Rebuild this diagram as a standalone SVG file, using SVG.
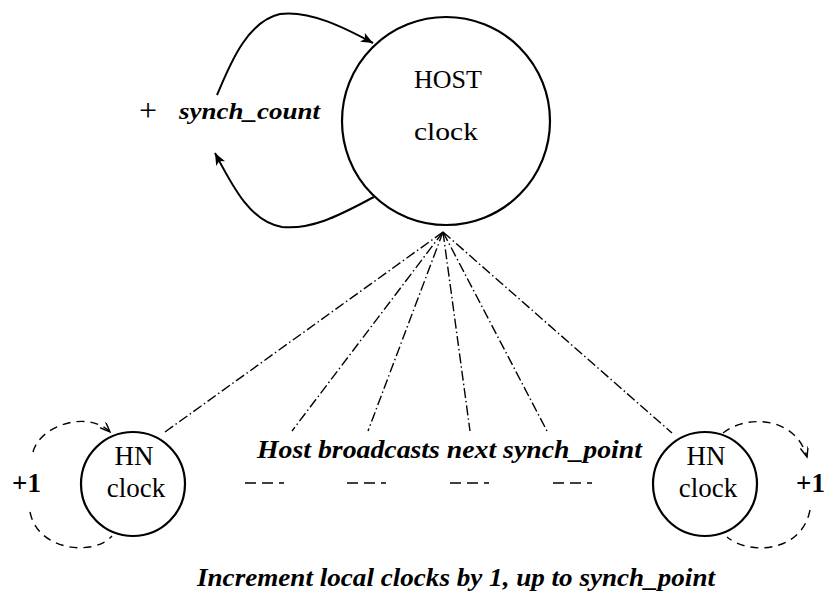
<svg xmlns="http://www.w3.org/2000/svg" width="831" height="593" viewBox="0 0 831 593">
  <style>
    .node { fill: #fff; stroke: #000; stroke-width: 2.2; }
    .lbl { font-family: "Liberation Serif", "DejaVu Serif", serif; fill: #000; text-anchor: middle; }
    .it { font-family: "Liberation Serif", "DejaVu Serif", serif; font-style: italic; font-weight: bold; fill: #000; }
    .bold { font-family: "Liberation Serif", "DejaVu Serif", serif; font-weight: bold; fill: #000; }
    .loop { fill: none; stroke: #000; stroke-width: 2; }
    .dloop { fill: none; stroke: #000; stroke-width: 1.4; stroke-dasharray: 8 6; }
    .bcast { fill: none; stroke: #000; stroke-width: 1.4; stroke-dasharray: 10 3 1.5 3; }
    .tick { fill: none; stroke: #000; stroke-width: 1.5; stroke-dasharray: 11 6 11 6 5 100; }
  </style>
  <defs>
    <marker id="arrow" markerUnits="userSpaceOnUse" markerWidth="14" markerHeight="12" refX="12" refY="5" orient="auto">
      <path d="M0,0 L12,5 L0,10 L3,5 z" fill="#000"/>
    </marker>
    <marker id="arrowThin" markerUnits="userSpaceOnUse" markerWidth="12" markerHeight="10" refX="10" refY="4" orient="auto">
      <path d="M0,0 L10,4 L0,8" fill="none" stroke="#000" stroke-width="1.4"/>
    </marker>
  </defs>

  <!-- connectors -->
  <g id="connectors">
    <!-- host self-loop: add synch_count -->
    <path class="loop" d="M217,95 C228,70 245,22 280,14 C310,10 345,28 373,43" marker-end="url(#arrow)"/>
    <path class="loop" d="M374,197 C345,212 315,230 282,227 C250,222 232,185 215,153" marker-end="url(#arrow)"/>

    <!-- broadcast fan from host -->
    <path class="bcast" d="M443,232 L165,432"/>
    <path class="bcast" d="M443,232 L292,431"/>
    <path class="bcast" d="M443,232 L368,431"/>
    <path class="bcast" d="M443,232 L470,431"/>
    <path class="bcast" d="M443,232 L547,431"/>
    <path class="bcast" d="M443,232 L672,433"/>

    <!-- dashed gaps between nodes -->
    <path class="tick" d="M245,483 L292,483"/>
    <path class="tick" d="M347,483 L394,483"/>
    <path class="tick" d="M450,483 L497,483"/>
    <path class="tick" d="M553,483 L600,483"/>

    <!-- left HN self-loop (+1) -->
    <path class="dloop" d="M33,452 C40,425 88,410 110,432" marker-end="url(#arrowThin)"/>
    <path class="dloop" d="M30,512 C38,552 95,556 112,536"/>

    <!-- right HN self-loop (+1) -->
    <path class="dloop" d="M723,433 C745,415 795,415 807,457" marker-end="url(#arrowThin)"/>
    <path class="dloop" d="M810,510 C802,552 750,556 727,537"/>
  </g>

  <g id="host">
    <circle class="node" cx="446" cy="121" r="104"/>
    <text class="lbl" x="448" y="88" font-size="26">HOST</text>
    <text class="lbl" x="446" y="140" font-size="26" textLength="64" lengthAdjust="spacingAndGlyphs">clock</text>
  </g>

  <g id="hn-left">
    <circle class="node" cx="133" cy="484" r="52"/>
    <text class="lbl" x="134" y="465" font-size="27">HN</text>
    <text class="lbl" x="136" y="497" font-size="27">clock</text>
  </g>

  <g id="hn-right">
    <circle class="node" cx="705" cy="484" r="52"/>
    <text class="lbl" x="706" y="465" font-size="27">HN</text>
    <text class="lbl" x="708" y="497" font-size="27">clock</text>
  </g>

  <g id="labels">
    <text x="139" y="121" font-size="32" font-family="Liberation Serif, serif">+</text>
    <text class="it" x="179" y="119" font-size="23" textLength="141" lengthAdjust="spacingAndGlyphs">synch_count</text>
    <text class="it" x="257" y="458" font-size="25" textLength="385" lengthAdjust="spacingAndGlyphs">Host broadcasts next synch_point</text>
    <text class="bold" x="12" y="492" font-size="27">+1</text>
    <text class="bold" x="796" y="492" font-size="27">+1</text>
    <text class="it" x="197" y="586" font-size="25" textLength="518" lengthAdjust="spacingAndGlyphs">Increment local clocks by 1, up to synch_point</text>
  </g>
</svg>
